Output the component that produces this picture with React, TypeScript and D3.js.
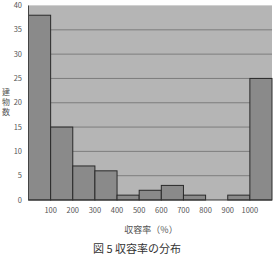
import React from "react";
import * as d3 from "d3";

const categories = ["0", "100", "200", "300", "400", "500", "600", "700", "800", "900", "1000"];
const counts = [38, 15, 7, 6, 1, 2, 3, 1, 0, 1, 25];
const xTickLabels = ["100", "200", "300", "400", "500", "600", "700", "800", "900", "1000"];
const yTicks = [0, 5, 10, 15, 20, 25, 30, 35, 40];
const yTitle = "建物数";
const xTitle = "収容率（%）";
const caption = "図 5  収容率の分布";

export default function App() {
  const W = 273, H = 256;
  const left = 28.5, right = 272, top = 5.5, bottom = 200;
  const x = d3.scaleBand<string>().domain(categories).range([left, right]).padding(0);
  const y = d3.scaleLinear().domain([0, 40]).range([bottom, top]);
  const font = "'Noto Sans CJK JP', 'DejaVu Sans', sans-serif";
  const yChars = Array.from(yTitle);
  return (
    <svg width={W} height={H} style={{ position: "absolute", left: 0, top: 0, background: "#fff" }}>
      <rect x={left} y={top} width={right - left} height={bottom - top} fill="#b5b5b5" />
      <line x1={left} x2={right} y1={top} y2={top} stroke="#d0d0d0" strokeWidth={1} />
      {yTicks.filter(t => t > 0 && t < 40).map(t => (
        <line key={t} x1={left} x2={right} y1={y(t)} y2={y(t)} stroke="#6e6e6e" strokeWidth={0.8} />
      ))}
      {categories.map((c, i) => (
        <rect key={c} x={x(c)!} y={y(counts[i])} width={x.bandwidth()} height={bottom - y(counts[i])}
          fill="#8a8a8a" stroke="#2a2a2a" strokeWidth={1} />
      ))}
      <line x1={left} x2={left} y1={top} y2={bottom} stroke="#444" strokeWidth={1} />
      <line x1={left} x2={right} y1={bottom} y2={bottom} stroke="#333" strokeWidth={1} />
      {yTicks.map(t => (
        <text key={t} x={22} y={y(t)} dy="0.35em" textAnchor="end" fontSize={7.5} fill="#555" fontFamily={font}>{t}</text>
      ))}
      {xTickLabels.map((l, i) => (
        <text key={l} x={x(categories[i + 1])!} y={213} textAnchor="middle" fontSize={7.5} fill="#555" fontFamily={font}>{l}</text>
      ))}
      <text x={151} y={233} textAnchor="middle" fontSize={9} fill="#555" fontFamily={font}>{xTitle}</text>
      {yChars.map((ch, i) => (
        <text key={i} x={6} y={92 + i * 10} dy="0.35em" textAnchor="middle" fontSize={8} fill="#555" fontFamily={font}>{ch}</text>
      ))}
      <text x={137} y={253} textAnchor="middle" fontSize={11} fill="#333" fontFamily={font}>{caption}</text>
    </svg>
  );
}
